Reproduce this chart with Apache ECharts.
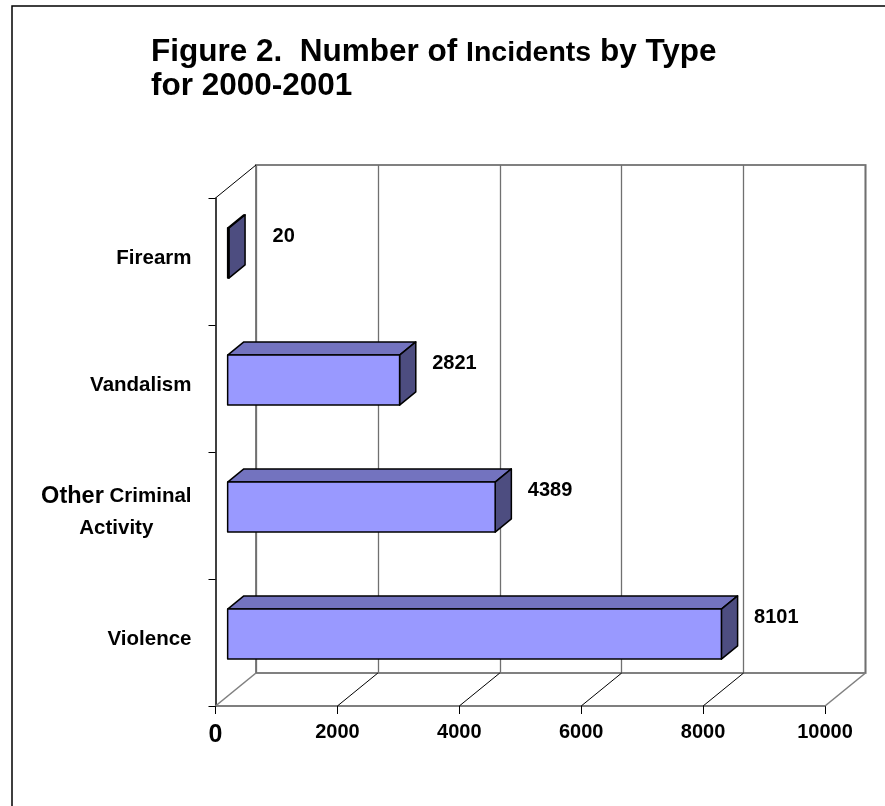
<!DOCTYPE html>
<html>
<head>
<meta charset="utf-8">
<script src="https://cdn.jsdelivr.net/npm/echarts@6/dist/echarts.min.js"></script>
<style>
html,body{margin:0;padding:0;background:#fff;}
#chart{width:885px;height:806px;}
</style>
</head>
<body>
<div id="chart"></div>
<script>
// ---- data ----
const categories = ['Violence', 'Other Criminal Activity', 'Vandalism', 'Firearm'];
const values = [8101, 4389, 2821, 20];
const tickValues = [0, 2000, 4000, 6000, 8000, 10000];
const titleLine1a = 'Figure 2.  Number of ';
const titleLine1b = 'Incidents';
const titleLine1c = ' by Type';
const titleLine2 = 'for 2000-2001';

// ---- style constants ----
const FONT = '"Liberation Sans", Arial, sans-serif';
const DX = 40.5, DY = -33;      // full depth offset of the 3D box
const F1 = 0.3, F2 = 0.7;       // bar depth range (fraction of full depth)
const BAR_FRAC = 0.394;         // bar thickness relative to band

const chart = echarts.init(document.getElementById('chart'));

const barData = values.map((v, i) => [v, i]);
const floorData = tickValues.map(v => [v, 0]);

function renderBar(params, api) {
  const v = api.value(0), c = api.value(1);
  const p0 = api.coord([0, c]);
  const p1 = api.coord([v, c]);
  const band = api.size([0, 1])[1];
  const h = band * BAR_FRAC;
  const cy = p0[1] + 1.5;
  const top = cy - h / 2, bot = cy + h / 2;
  const a1 = DX * F1, b1 = DY * F1, a2 = DX * F2, b2 = DY * F2;
  const x0 = p0[0], x1 = p1[0];
  const stroke = {stroke: '#000', lineWidth: 1.5, lineJoin: 'round'};
  return {
    type: 'group',
    children: [
      {type: 'polygon', shape: {points: [[x0 + a1, top + b1], [x0 + a2, top + b2], [x1 + a2, top + b2], [x1 + a1, top + b1]]},
       style: Object.assign({fill: '#7373BF'}, stroke)},
      {type: 'polygon', shape: {points: [[x1 + a1, top + b1], [x1 + a2, top + b2], [x1 + a2, bot + b2], [x1 + a1, bot + b1]]},
       style: Object.assign({fill: '#4D4D80'}, stroke)},
      {type: 'rect', shape: {x: x0 + a1, y: top + b1, width: Math.max(x1 - x0, 0.5), height: h},
       style: Object.assign({fill: '#9999FF'}, stroke)},
      {type: 'text', style: {text: String(v), x: x1 + 67, y: p0[1] - 25, align: 'center', verticalAlign: 'middle',
        font: 'bold 20px ' + FONT, fill: '#000'}}
    ]
  };
}

function renderFloor(params, api) {
  const v = api.value(0);
  const band = api.size([0, 1])[1];
  const pb = api.coord([v, 0]);
  const yb = pb[1] + band / 2;
  const isEdge = (v === tickValues[0] || v === tickValues[tickValues.length - 1]);
  const children = [
    {type: 'line', shape: {x1: pb[0], y1: yb, x2: pb[0] + DX, y2: yb + DY},
     style: {stroke: isEdge ? '#808080' : '#000', lineWidth: isEdge ? 1.6 : 1}}
  ];
  if (v === tickValues[0]) {
    const pt = api.coord([v, categories.length - 1]);
    const yt = pt[1] - band / 2;
    children.push({type: 'line', shape: {x1: pt[0], y1: yt, x2: pt[0] + DX, y2: yt + DY},
      style: {stroke: '#000', lineWidth: 1}});
  }
  return {type: 'group', children};
}

const option = {
  animation: false,
  backgroundColor: '#fff',
  textStyle: {fontFamily: FONT},
  title: {
    left: 151, top: 35, padding: 0,
    text: '{a|' + titleLine1a + '}{b|' + titleLine1b + '}{a|' + titleLine1c + '}\n{a|' + titleLine2 + '}',
    textStyle: {
      rich: {
        a: {fontFamily: FONT, fontWeight: 'bold', fontSize: 31.5, lineHeight: 34, color: '#000'},
        b: {fontFamily: FONT, fontWeight: 'bold', fontSize: 28.5, lineHeight: 34, color: '#000', verticalAlign: 'bottom', padding: [0, 0, 1, 0]}
      }
    }
  },
  graphic: [
    {type: 'rect', shape: {x: 12, y: 6, width: 1000, height: 1000}, style: {fill: 'none', stroke: '#000', lineWidth: 1.5}, z: -10}
  ],
  grid: [
    {left: 215.5, right: 60, top: 198, bottom: 100, containLabel: false},
    {left: 256, right: 19.5, top: 165, bottom: 133, containLabel: false, show: true, borderColor: '#808080', borderWidth: 2, backgroundColor: 'transparent'}
  ],
  xAxis: [
    {
      gridIndex: 0, type: 'value', min: 0, max: 10000, interval: 2000,
      splitLine: {show: false},
      axisLine: {show: true, lineStyle: {color: '#555', width: 1.5}},
      axisTick: {show: true, length: 8, lineStyle: {color: '#000', width: 1}},
      axisLabel: {
        margin: 14, color: '#000', fontFamily: FONT, fontWeight: 'bold', fontSize: 20, lineHeight: 24,
        formatter: v => v === 0 ? '{z|0}' : String(v),
        rich: {z: {fontFamily: FONT, fontWeight: 'bold', fontSize: 25, lineHeight: 24, color: '#000', padding: [6, 0, 0, 0]}}
      }
    },
    {
      gridIndex: 1, type: 'value', min: 0, max: 10000, interval: 2000,
      axisLine: {show: false}, axisTick: {show: false}, axisLabel: {show: false},
      splitLine: {show: true, lineStyle: {color: '#707070', width: 1.3}}
    }
  ],
  yAxis: [
    {
      gridIndex: 0, type: 'category', data: categories,
      axisLine: {show: true, lineStyle: {color: '#000', width: 1.5}},
      axisTick: {show: true, length: 7, lineStyle: {color: '#000', width: 1}},
      splitLine: {show: false},
      axisLabel: {
        margin: 24, color: '#000', fontFamily: FONT, fontWeight: 'bold', fontSize: 20.5, padding: [0, 0, 6, 0],
        formatter: v => v === 'Other Criminal Activity'
          ? '{o|Other}{c| Criminal}\n{d|Activity}'
          : v,
        rich: {
          o: {fontFamily: FONT, fontWeight: 'bold', fontSize: 23.5, lineHeight: 32, color: '#000', align: 'center'},
          c: {fontFamily: FONT, fontWeight: 'bold', fontSize: 20.5, lineHeight: 32, color: '#000', align: 'center'},
          d: {fontFamily: FONT, fontWeight: 'bold', fontSize: 20.5, lineHeight: 32, color: '#000', align: 'center'}
        }
      }
    },
    {
      gridIndex: 1, type: 'value', min: 0, max: 1, show: false, splitLine: {show: false}
    }
  ],
  series: [
    {
      type: 'custom', name: 'floor', xAxisIndex: 0, yAxisIndex: 0, data: floorData,
      renderItem: renderFloor, z: 2, silent: true, clip: false
    },
    {
      type: 'custom', name: 'Incidents', xAxisIndex: 0, yAxisIndex: 0, data: barData,
      renderItem: renderBar, z: 5, clip: false, encode: {x: 0, y: 1}
    }
  ]
};
chart.setOption(option);
</script>
</body>
</html>
